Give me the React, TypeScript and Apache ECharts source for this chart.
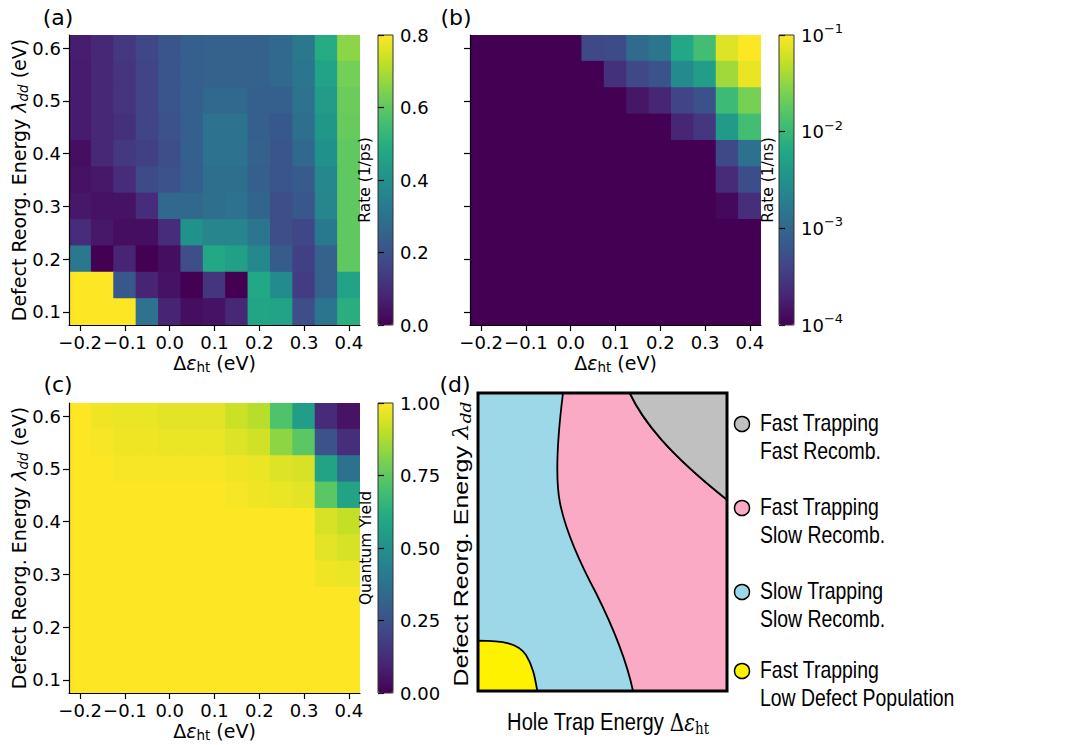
import React, { useEffect, useRef } from 'react';
import * as echarts from 'echarts';

// ---------- data ----------
const X_CATS = ['-0.20', '-0.15', '-0.10', '-0.05', '0.00', '0.05', '0.10', '0.15', '0.20', '0.25', '0.30', '0.35', '0.40'];
const Y_CATS = ['0.10', '0.15', '0.20', '0.25', '0.30', '0.35', '0.40', '0.45', '0.50', '0.55', '0.60'];

// (a) trapping rate (1/ps); rows from lambda = 0.60 (top) down to 0.10 (bottom)
const TRAP_RATE = [
  [0.065, 0.09, 0.13, 0.17, 0.21, 0.24, 0.25, 0.25, 0.25, 0.27, 0.32, 0.49, 0.66],
  [0.06, 0.09, 0.12, 0.16, 0.21, 0.24, 0.25, 0.25, 0.25, 0.27, 0.31, 0.46, 0.63],
  [0.06, 0.09, 0.12, 0.16, 0.21, 0.24, 0.27, 0.27, 0.24, 0.24, 0.30, 0.44, 0.62],
  [0.06, 0.09, 0.11, 0.16, 0.20, 0.24, 0.30, 0.30, 0.24, 0.22, 0.29, 0.42, 0.61],
  [0.03, 0.09, 0.13, 0.15, 0.19, 0.24, 0.30, 0.30, 0.25, 0.21, 0.27, 0.40, 0.60],
  [0.04, 0.05, 0.10, 0.18, 0.20, 0.24, 0.29, 0.29, 0.24, 0.21, 0.23, 0.37, 0.60],
  [0.05, 0.04, 0.04, 0.10, 0.27, 0.27, 0.29, 0.30, 0.26, 0.19, 0.22, 0.36, 0.60],
  [0.10, 0.05, 0.03, 0.03, 0.10, 0.40, 0.36, 0.36, 0.31, 0.19, 0.17, 0.32, 0.60],
  [0.32, 0.00, 0.08, 0.00, 0.03, 0.19, 0.48, 0.45, 0.37, 0.23, 0.15, 0.25, 0.60],
  [0.80, 0.80, 0.22, 0.08, 0.04, 0.00, 0.12, 0.00, 0.48, 0.38, 0.14, 0.25, 0.46],
  [0.80, 0.80, 0.80, 0.30, 0.08, 0.03, 0.04, 0.09, 0.47, 0.46, 0.19, 0.31, 0.50],
];

// (b) recombination rate (1/ns), log colour scale; 1e-4 = floor of the scale
const RECOMB_RATE = [
  [1e-4, 1e-4, 1e-4, 1e-4, 1e-4, 4.5e-4, 4.9e-4, 1.1e-3, 1.5e-3, 6.3e-3, 1.2e-2, 7.1e-2, 1.0e-1],
  [1e-4, 1e-4, 1e-4, 1e-4, 1e-4, 1e-4, 2.6e-4, 4.5e-4, 6.0e-4, 2.6e-3, 4.5e-3, 3.7e-2, 8.1e-2],
  [1e-4, 1e-4, 1e-4, 1e-4, 1e-4, 1e-4, 1e-4, 1.5e-4, 2.1e-4, 4.0e-4, 5.6e-4, 1.1e-2, 2.4e-2],
  [1e-4, 1e-4, 1e-4, 1e-4, 1e-4, 1e-4, 1e-4, 1e-4, 1e-4, 2.1e-4, 3.0e-4, 4.2e-3, 1.2e-2],
  [1e-4, 1e-4, 1e-4, 1e-4, 1e-4, 1e-4, 1e-4, 1e-4, 1e-4, 1e-4, 1e-4, 4.5e-4, 1.3e-3],
  [1e-4, 1e-4, 1e-4, 1e-4, 1e-4, 1e-4, 1e-4, 1e-4, 1e-4, 1e-4, 1e-4, 2.3e-4, 5.2e-4],
  [1e-4, 1e-4, 1e-4, 1e-4, 1e-4, 1e-4, 1e-4, 1e-4, 1e-4, 1e-4, 1e-4, 1.15e-4, 2.5e-4],
  [1e-4, 1e-4, 1e-4, 1e-4, 1e-4, 1e-4, 1e-4, 1e-4, 1e-4, 1e-4, 1e-4, 1e-4, 1e-4],
  [1e-4, 1e-4, 1e-4, 1e-4, 1e-4, 1e-4, 1e-4, 1e-4, 1e-4, 1e-4, 1e-4, 1e-4, 1e-4],
  [1e-4, 1e-4, 1e-4, 1e-4, 1e-4, 1e-4, 1e-4, 1e-4, 1e-4, 1e-4, 1e-4, 1e-4, 1e-4],
  [1e-4, 1e-4, 1e-4, 1e-4, 1e-4, 1e-4, 1e-4, 1e-4, 1e-4, 1e-4, 1e-4, 1e-4, 1e-4],
];

// (c) quantum yield
const QUANTUM_YIELD = [
  [1.00, 0.98, 0.97, 0.97, 0.96, 0.96, 0.96, 0.92, 0.89, 0.72, 0.55, 0.12, 0.05],
  [1.00, 0.99, 0.98, 0.98, 0.97, 0.97, 0.97, 0.95, 0.93, 0.83, 0.74, 0.25, 0.13],
  [1.00, 1.00, 0.99, 0.99, 0.99, 0.99, 0.99, 0.98, 0.97, 0.95, 0.94, 0.58, 0.37],
  [1.00, 1.00, 1.00, 1.00, 1.00, 1.00, 1.00, 0.99, 0.98, 0.97, 0.96, 0.74, 0.58],
  [1.00, 1.00, 1.00, 1.00, 1.00, 1.00, 1.00, 1.00, 1.00, 1.00, 1.00, 0.94, 0.91],
  [1.00, 1.00, 1.00, 1.00, 1.00, 1.00, 1.00, 1.00, 1.00, 1.00, 1.00, 0.96, 0.94],
  [1.00, 1.00, 1.00, 1.00, 1.00, 1.00, 1.00, 1.00, 1.00, 1.00, 1.00, 0.98, 0.97],
  [1.00, 1.00, 1.00, 1.00, 1.00, 1.00, 1.00, 1.00, 1.00, 1.00, 1.00, 1.00, 1.00],
  [1.00, 1.00, 1.00, 1.00, 1.00, 1.00, 1.00, 1.00, 1.00, 1.00, 1.00, 1.00, 1.00],
  [1.00, 1.00, 1.00, 1.00, 1.00, 1.00, 1.00, 1.00, 1.00, 1.00, 1.00, 1.00, 1.00],
  [1.00, 1.00, 1.00, 1.00, 1.00, 1.00, 1.00, 1.00, 1.00, 1.00, 1.00, 1.00, 1.00],
];

const TRAP_SCALE = { min: 0, max: 0.8, interval: 0.2 };
const RECOMB_LOG_SCALE = { min: -4, max: -1, interval: 1 };
const QY_SCALE = { min: 0, max: 1, interval: 0.25 };

const REGIME_LINES = [
  ['Fast Trapping', 'Fast Recomb.'],
  ['Fast Trapping', 'Slow Recomb.'],
  ['Slow Trapping', 'Slow Recomb.'],
  ['Fast Trapping', 'Low Defect Population'],
];
const REGIME_COLORS = ['#c0c0c0', '#fbaac6', '#9cd8e8', '#fff200'];

const VIRIDIS = ['#440154', '#482475', '#414487', '#355f8d', '#2a788e', '#21918c', '#22a884', '#44bf70', '#7ad151', '#bddf26', '#fde725'];

// ---------- layout ----------
const PLOT_W = 291;
const PLOT_H = 290;
const CB_OFF = 309;
const CB_W = 15;
const PANELS = [
  { left: 69, top: 35 },
  { left: 470, top: 35 },
  { left: 69, top: 403 },
];
const SCHEME = { x: 478, y: 393, w: 249, h: 298 };
const TICK_FONT = 18;

const MPL_FONT = 'DejaVu Sans';
const SANS = 'Liberation Sans';
const SERIF = 'DejaVu Serif';

// regime boundaries of the schematic (local coordinates of the box)
const PINK_D = 'M85,0 C80,40 77,85 82,110 C88,140 102,170 118,200 C132,228 148,265 155,298 L249,298 L249,106.7 C190,60 165,28 151.7,0 Z';
const GREY_D = 'M151.7,0 C165,28 190,60 249,106.7 L249,0 Z';
const YELLOW_D = 'M0,247.7 C25,247.7 40,250 48,262 C55,273 57,285 59.3,298 L0,298 Z';

let registered = false;
function registerShapes() {
  if (registered) return;
  registered = true;
  echarts.graphic.registerShape('regionPink', echarts.graphic.extendPath(PINK_D, {}));
  echarts.graphic.registerShape('regionGrey', echarts.graphic.extendPath(GREY_D, {}));
  echarts.graphic.registerShape('regionYellow', echarts.graphic.extendPath(YELLOW_D, {}));
}

function cells(rows: number[][], f: (v: number) => number = (v) => v) {
  const n = rows.length;
  const out: number[][] = [];
  rows.forEach((row, r) => row.forEach((v, c) => out.push([c, n - 1 - r, f(v)])));
  return out;
}

function catFmt(v: string) {
  const n = parseFloat(v);
  const s = Math.abs(n).toFixed(1);
  return n < 0 ? '\u2212' + s : s;
}

function heatX(gi: number) {
  return {
    type: 'category', gridIndex: gi, data: X_CATS, boundaryGap: true, z: 10,
    axisLine: { show: true, onZero: false, lineStyle: { color: '#000', width: 1.2 } },
    axisTick: { show: true, interval: 1, alignWithLabel: true, length: 6, lineStyle: { color: '#000', width: 1.2 } },
    axisLabel: {
      show: true, interval: 1, margin: 8, fontSize: TICK_FONT, fontFamily: MPL_FONT, color: '#000', formatter: catFmt,
      showMinLabel: true, showMaxLabel: true, hideOverlap: false,
    },
    splitLine: { show: false },
  };
}
function heatY(gi: number, labels: boolean) {
  return {
    type: 'category', gridIndex: gi, data: Y_CATS, boundaryGap: true, z: 10, position: 'left',
    axisLine: { show: true, onZero: false, lineStyle: { color: '#000', width: 1.2 } },
    axisTick: { show: true, interval: 1, alignWithLabel: true, length: 6, lineStyle: { color: '#000', width: 1.2 } },
    axisLabel: { show: labels, interval: 1, margin: 8, fontSize: TICK_FONT, fontFamily: MPL_FONT, color: '#000', formatter: catFmt, showMinLabel: true, showMaxLabel: true },
    splitLine: { show: false },
  };
}
function cbX(gi: number) {
  return { type: 'value', gridIndex: gi, show: false, min: 0, max: 1 };
}
function cbY(gi: number, sc: { min: number; max: number; interval: number }, formatter: any, rich?: any) {
  return {
    type: 'value', gridIndex: gi, position: 'right', min: sc.min, max: sc.max, interval: sc.interval, z: 10,
    axisLine: { show: false },
    axisTick: { show: true, length: 6, lineStyle: { color: '#000', width: 1.2 } },
    axisLabel: { show: true, margin: 7, fontSize: TICK_FONT, fontFamily: MPL_FONT, color: '#000', formatter, rich },
    splitLine: { show: false },
  };
}

const mplRich = {
  t: { fontFamily: MPL_FONT, fontSize: 19, lineHeight: 22, fill: '#000' },
  i: { fontFamily: MPL_FONT, fontStyle: 'italic', fontSize: 19, lineHeight: 22, fill: '#000' },
  si: { fontFamily: MPL_FONT, fontStyle: 'italic', fontSize: 13.5, lineHeight: 12, verticalAlign: 'bottom', fill: '#000' },
  su: { fontFamily: MPL_FONT, fontSize: 13.5, lineHeight: 12, verticalAlign: 'bottom', fill: '#000' },
};
const Y_TITLE = '{t|Defect Reorg. Energy }{i|\u03bb}{si|dd}{t| (eV)}';
const X_TITLE = '{t|\u0394}{i|\u03b5}{su|ht}{t| (eV)}';

function textEl(x: number, y: number, text: string, extra: any = {}, rotation = 0) {
  return {
    type: 'text', x, y, rotation, z: 20,
    style: { text, fill: '#000', fontFamily: MPL_FONT, fontSize: 19, align: 'center', verticalAlign: 'middle', ...extra },
  };
}

// heat cells drawn through the category scales; slightly enlarged to avoid hairline seams
function renderCell(params: any, api: any) {
  const c = api.coord([api.value(0), api.value(1)]);
  const s = api.size([1, 1]);
  return {
    type: 'rect',
    shape: { x: c[0] - s[0] / 2 - 0.5, y: c[1] - s[1] / 2 - 0.5, width: s[0] + 1, height: s[1] + 1 },
    style: { fill: api.visual('color'), stroke: null },
  };
}

function buildOption() {
  const grids = [
    ...PANELS.map((p) => ({ left: p.left, top: p.top, width: PLOT_W, height: PLOT_H })),
    ...PANELS.map((p) => ({ left: p.left + CB_OFF, top: p.top, width: CB_W, height: PLOT_H })),
  ];
  const expRich = {
    b: { fontFamily: MPL_FONT, fontSize: TICK_FONT, lineHeight: 26, color: '#000' },
    s: { fontFamily: MPL_FONT, fontSize: 13, lineHeight: 14, verticalAlign: 'top', color: '#000' },
  };
  const heatSeries = (i: number, data: number[][]) => ({
    type: 'custom', xAxisIndex: i, yAxisIndex: i, data, renderItem: renderCell,
    encode: { x: 0, y: 1 }, clip: true, silent: true,
  });
  const vm = (i: number, sc: { min: number; max: number }) => ({
    type: 'continuous', seriesIndex: i, dimension: 2, min: sc.min, max: sc.max, inRange: { color: VIRIDIS },
    orient: 'vertical', left: PANELS[i].left + CB_OFF, top: PANELS[i].top, itemWidth: CB_W, itemHeight: PLOT_H,
    calculable: false, hoverLink: false, padding: 0, show: true,
  });

  const d = SCHEME;
  const graphics: any[] = [
    textEl(58, 17, '(a)', { fontSize: 22 }),
    textEl(456, 17, '(b)', { fontSize: 22 }),
    textEl(58, 384, '(c)', { fontSize: 22 }),
    textEl(455, 384, '(d)', { fontSize: 22 }),
    textEl(19, PANELS[0].top + PLOT_H / 2, Y_TITLE, { rich: mplRich }, Math.PI / 2),
    textEl(19, PANELS[2].top + PLOT_H / 2, Y_TITLE, { rich: mplRich }, Math.PI / 2),
    textEl(PANELS[0].left + PLOT_W / 2, PANELS[0].top + PLOT_H + 38, X_TITLE, { rich: mplRich }),
    textEl(PANELS[1].left + PLOT_W / 2, PANELS[1].top + PLOT_H + 38, X_TITLE, { rich: mplRich }),
    textEl(PANELS[2].left + PLOT_W / 2, PANELS[2].top + PLOT_H + 38, X_TITLE, { rich: mplRich }),
    textEl(PANELS[0].left + 296, PANELS[0].top + PLOT_H / 2, 'Rate (1/ps)', { fontSize: 15.5 }, Math.PI / 2),
    textEl(PANELS[1].left + 298, PANELS[1].top + PLOT_H / 2, 'Rate (1/ns)', { fontSize: 15.5 }, Math.PI / 2),
    textEl(PANELS[2].left + 297, PANELS[2].top + PLOT_H / 2, 'Quantum Yield', { fontSize: 15.5 }, Math.PI / 2),
    ...PANELS.map((p) => ({
      type: 'rect', z: 20, shape: { x: p.left + CB_OFF, y: p.top, width: CB_W, height: PLOT_H },
      style: { fill: 'none', stroke: '#333', lineWidth: 1 },
    })),
    // schematic (d)
    { type: 'rect', z: 5, shape: { x: d.x, y: d.y, width: d.w, height: d.h }, style: { fill: REGIME_COLORS[2] } },
    { type: 'regionPink', z: 6, x: d.x, y: d.y, style: { fill: REGIME_COLORS[1], stroke: '#000', lineWidth: 1.8 } },
    { type: 'regionGrey', z: 6, x: d.x, y: d.y, style: { fill: REGIME_COLORS[0], stroke: '#000', lineWidth: 1.8 } },
    { type: 'regionYellow', z: 6, x: d.x, y: d.y, style: { fill: REGIME_COLORS[3], stroke: '#000', lineWidth: 1.8 } },
    { type: 'rect', z: 7, shape: { x: d.x, y: d.y, width: d.w, height: d.h }, style: { fill: 'none', stroke: '#000', lineWidth: 3 } },
    {
      type: 'text', z: 20, x: 608, y: 722, scaleX: 0.84,
      style: {
        text: '{t|Hole Trap Energy }{m|\u0394}{mi|\u03b5}{ms|ht}', align: 'center', verticalAlign: 'middle',
        rich: {
          t: { fontFamily: SANS, fontSize: 24, lineHeight: 28, fill: '#000' },
          m: { fontFamily: SERIF, fontSize: 24, lineHeight: 28, fill: '#000' },
          mi: { fontFamily: SERIF, fontStyle: 'italic', fontSize: 24, lineHeight: 28, fill: '#000' },
          ms: { fontFamily: SERIF, fontSize: 16, lineHeight: 17, verticalAlign: 'bottom', fill: '#000' },
        },
      },
    },
    {
      type: 'text', z: 20, x: 461, y: 544, rotation: Math.PI / 2, scaleY: 0.84,
      style: {
        text: '{t|Defect Reorg. Energy }{mi|\u03bb}{ms|dd}', align: 'center', verticalAlign: 'middle',
        rich: {
          t: { fontFamily: SANS, fontSize: 25, lineHeight: 30, fill: '#000' },
          mi: { fontFamily: SERIF, fontStyle: 'italic', fontSize: 25, lineHeight: 30, fill: '#000' },
          ms: { fontFamily: SERIF, fontStyle: 'italic', fontSize: 17, lineHeight: 18, verticalAlign: 'bottom', fill: '#000' },
        },
      },
    },
  ];
  const legendY = [437, 521, 605, 684];
  REGIME_LINES.forEach((lines, i) => {
    graphics.push({
      type: 'circle', z: 20, shape: { cx: 742, cy: legendY[i] - 13, r: 7.5 },
      style: { fill: REGIME_COLORS[i], stroke: '#000', lineWidth: 1.5 },
    });
    graphics.push({
      type: 'text', z: 20, x: 760, y: legendY[i], scaleX: 0.845,
      style: { text: lines.join('\n'), fontFamily: SANS, fontSize: 23, lineHeight: 28, fill: '#000', align: 'left', verticalAlign: 'middle' },
    });
  });

  return {
    animation: false,
    backgroundColor: '#fff',
    grid: grids,
    xAxis: [heatX(0), heatX(1), heatX(2), cbX(3), cbX(4), cbX(5)],
    yAxis: [
      heatY(0, true), heatY(1, false), heatY(2, true),
      cbY(3, TRAP_SCALE, (v: number) => v.toFixed(1)),
      cbY(4, RECOMB_LOG_SCALE, (v: number) => `{b|10}{s|\u2212${Math.abs(Math.round(v))}}`, expRich),
      cbY(5, QY_SCALE, (v: number) => v.toFixed(2)),
    ],
    visualMap: [vm(0, TRAP_SCALE), vm(1, RECOMB_LOG_SCALE), vm(2, QY_SCALE)],
    series: [
      heatSeries(0, cells(TRAP_RATE)),
      heatSeries(1, cells(RECOMB_RATE, (v) => Math.min(-1, Math.max(-4, Math.log10(v))))),
      heatSeries(2, cells(QUANTUM_YIELD)),
    ],
    graphic: { elements: graphics },
  };
}

export default function App() {
  const ref = useRef<HTMLDivElement>(null);
  useEffect(() => {
    if (!ref.current) return;
    registerShapes();
    const chart = echarts.init(ref.current, undefined, { renderer: 'svg' });
    chart.setOption(buildOption() as any);
    return () => chart.dispose();
  }, []);
  return <div ref={ref} style={{ position: 'fixed', left: 0, top: 0, width: 1071, height: 745 }} />;
}
